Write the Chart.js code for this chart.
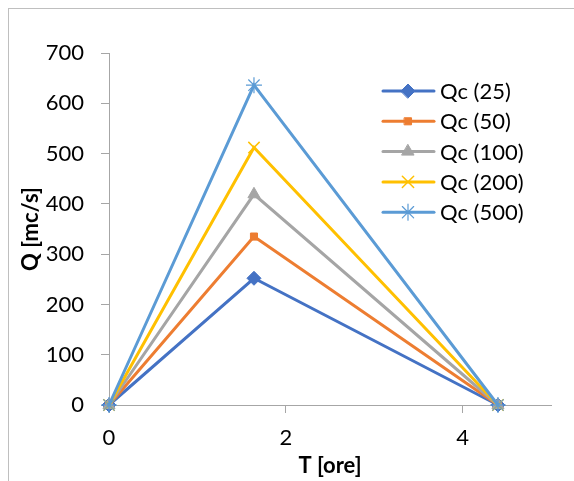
<!DOCTYPE html>
<html lang="it">
<head>
<meta charset="UTF-8">
<title>Q - T</title>
<script src="https://cdn.jsdelivr.net/npm/chart.js@4/dist/chart.umd.min.js"></script>
<style>
body {
    margin: 0;
    padding: 0;
    background: white;
}
.frame {
    position: absolute;
    left: 8px;
    top: 8px;
    width: 700px;
    height: 700px;
    border-left: 1px solid #bfbfbf;
    border-top: 1px solid #bfbfbf;
}
.wrap {
    position: absolute;
    left: 0;
    top: 0;
    width: 574px;
    height: 481px;
}
</style>
</head>
<body>
<div class="frame"></div>
<div class="wrap"><canvas id="grafico"></canvas></div>
<script>
// dati
const tempi = [0, 1.64, 4.40];
const etichette = ['Qc (25)', 'Qc (50)', 'Qc (100)', 'Qc (200)', 'Qc (500)'];
const qc25 = [0, 252, 0];
const qc50 = [0, 335, 0];
const qc100 = [0, 419, 0];
const qc200 = [0, 512, 0];
const qc500 = [0, 636, 0];
const ticksX = [0, 2, 4];

const serie = [qc25, qc50, qc100, qc200, qc500];
const colori = ['#4472C4', '#ED7D31', '#A5A5A5', '#FFC000', '#5B9BD5'];
const marcatori = [
    { style: 'rectRot', radius: 7, width: 1 },
    { style: 'rect', radius: 5, width: 1 },
    { style: 'triangle', radius: 7, width: 1 },
    { style: 'crossRot', radius: 8, width: 1.5 },
    { style: 'star', radius: 8, width: 1.2 }
];

const FONT = 'Lato, "Open Sans", sans-serif';

const datasets = serie.map((valori, i) => ({
    label: etichette[i],
    data: valori.map((v, k) => ({ x: tempi[k], y: v })),
    borderColor: colori[i],
    backgroundColor: colori[i],
    borderWidth: 3,
    pointStyle: marcatori[i].style,
    pointRadius: marcatori[i].radius,
    pointBorderWidth: marcatori[i].width,
    pointBackgroundColor: colori[i],
    pointBorderColor: colori[i],
    order: serie.length - i,
    clip: false,
    tension: 0
}));

// legenda disegnata dentro l'area del grafico
const legendaInterna = {
    id: 'legendaInterna',
    afterDraw(chart) {
        const ctx = chart.ctx;
        ctx.save();
        chart.data.datasets.forEach((ds, i) => {
            const y = 91 + i * 30.3;
            ctx.strokeStyle = ds.borderColor;
            ctx.lineWidth = 3;
            ctx.lineCap = 'round';
            ctx.beginPath();
            ctx.moveTo(383, y);
            ctx.lineTo(434, y);
            ctx.stroke();
            ctx.fillStyle = ds.borderColor;
            ctx.lineWidth = ds.pointBorderWidth;
            Chart.helpers.drawPoint(ctx, {
                pointStyle: ds.pointStyle,
                radius: ds.pointRadius,
                borderWidth: ds.pointBorderWidth,
                rotation: 0
            }, 408, y);
            ctx.fillStyle = '#000';
            ctx.font = '22px ' + FONT;
            ctx.textBaseline = 'middle';
            ctx.textAlign = 'left';
            ctx.fillText(ds.label, 440, y + 1);
        });
        ctx.restore();
    }
};

new Chart(document.getElementById('grafico'), {
    type: 'line',
    data: { datasets: datasets },
    plugins: [legendaInterna],
    options: {
        responsive: true,
        maintainAspectRatio: false,
        animation: false,
        layout: { padding: { top: 53, right: 23, left: 0, bottom: 0 } },
        plugins: {
            legend: { display: false },
            tooltip: { enabled: false }
        },
        scales: {
            x: {
                type: 'linear',
                min: 0,
                max: 5,
                afterFit(scale) { scale.height = 76; },
                afterBuildTicks(scale) { scale.ticks = ticksX.map(v => ({ value: v })); },
                border: { color: '#a6a6a6', width: 1 },
                grid: { drawOnChartArea: false, drawTicks: true, tickLength: 8, color: '#a6a6a6' },
                ticks: {
                    stepSize: 2,
                    includeBounds: false,
                    padding: 12,
                    color: '#000',
                    font: { family: FONT, size: 22 }
                },
                title: {
                    display: true,
                    text: 'T [ore]',
                    color: '#000',
                    font: { family: FONT, size: 22, weight: 'bold', lineHeight: 1.2 },
                    padding: { top: 0, bottom: 2 }
                }
            },
            y: {
                min: 0,
                max: 700,
                afterFit(scale) { scale.width = 109; },
                border: { color: '#a6a6a6', width: 1 },
                grid: { drawOnChartArea: false, drawTicks: true, tickLength: 8, color: '#a6a6a6' },
                ticks: {
                    stepSize: 100,
                    padding: 17,
                    color: '#000',
                    font: { family: FONT, size: 22 }
                },
                title: {
                    display: true,
                    text: 'Q [mc/s]',
                    color: '#000',
                    font: { family: FONT, size: 22, weight: 'bold', lineHeight: 1.2 },
                    padding: { top: 18, bottom: 0 }
                }
            }
        }
    }
});
</script>
</body>
</html>
